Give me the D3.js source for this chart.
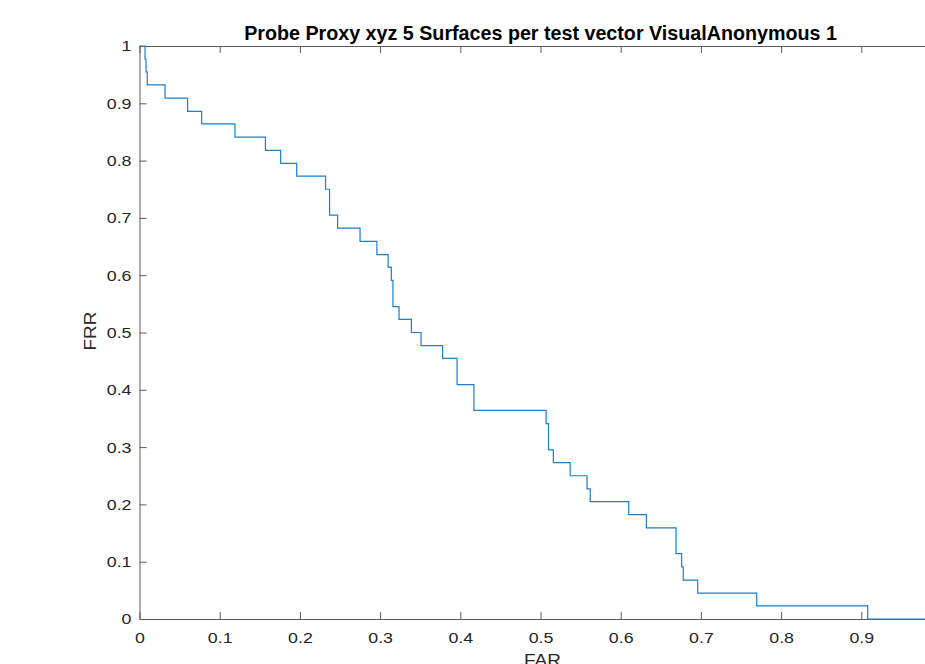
<!DOCTYPE html>
<html>
<head>
<meta charset="utf-8">
<script src="https://cdn.jsdelivr.net/npm/d3@7"></script>
<style>
  body { margin: 0; background: #fff; }
  text { font-family: "Liberation Sans", Arial, sans-serif; }
</style>
</head>
<body>
<div id="chart"></div>
<script>
 //stair points: FAR where each FRR level starts
 var far = [0, 0.0069, 0.0081, 0.0097, 0.0318, 0.060, 0.0775, 0.119, 0.157, 0.176,
     0.196, 0.232, 0.237, 0.247, 0.275, 0.296, 0.310, 0.314, 0.316, 0.3236,
     0.339, 0.351, 0.378, 0.396, 0.417, 0.507, 0.510, 0.516, 0.537, 0.558,
     0.562, 0.610, 0.632, 0.669, 0.676, 0.678, 0.696, 0.7696, 0.908, 1];
 var frr = [1, 0.977, 0.955, 0.932, 0.909, 0.886, 0.864, 0.841, 0.818, 0.795,
     0.773, 0.750, 0.705, 0.682, 0.659, 0.636, 0.614, 0.591, 0.545, 0.523,
     0.500, 0.477, 0.455, 0.409, 0.364, 0.341, 0.295, 0.273, 0.250, 0.227,
     0.205, 0.182, 0.159, 0.114, 0.091, 0.068, 0.045, 0.023, 0, 0];

 //x tick at 1 falls outside the visible picture
 var xTicks = [0, 0.1, 0.2, 0.3, 0.4, 0.5, 0.6, 0.7, 0.8, 0.9];
 var yTicks = [0, 0.1, 0.2, 0.3, 0.4, 0.5, 0.6, 0.7, 0.8, 0.9, 1];
 var title = "Probe Proxy xyz 5 Surfaces per test vector VisualAnonymous 1";

 var margin = { left: 139.5, top: 46, right: 0, bottom: 45 };
 var width = 802,
     height = 573;
 var stretch = 1.15; //text in the picture is a bit wider than the font

 var svg = d3.select("#chart")
     .append("svg")
     .attr("width", 925)
     .attr("height", 664);

 var g = svg.append("g")
     .attr("transform", "translate(" + margin.left + "," + margin.top + ")");

 var xScale = d3.scaleLinear().domain([0, 1]).range([0, width]);
 var yScale = d3.scaleLinear().domain([0, 1]).range([height, 0]);

 var fmt = function (d) { return d === 0 ? "0" : d === 1 ? "1" : d3.format(".1f")(d); };

 //axes, ticks pointing inward like matlab
 var xAxis = d3.axisBottom(xScale).tickValues(xTicks).tickSizeInner(-7).tickSizeOuter(0).tickPadding(13).tickFormat(fmt);
 var yAxis = d3.axisLeft(yScale).tickValues(yTicks).tickSizeInner(-7).tickSizeOuter(0).tickPadding(8).tickFormat(fmt);
 var topAxis = d3.axisTop(xScale).tickValues(xTicks).tickSizeInner(-7).tickSizeOuter(0).tickFormat("");

 g.append("g").attr("class", "axis")
     .attr("transform", "translate(0," + height + ")")
     .call(xAxis);
 g.append("g").attr("class", "axis yaxis").call(yAxis);
 g.append("g").attr("class", "axis").call(topAxis);

 g.selectAll(".axis path, .axis line").attr("stroke", "#5a5a5a").attr("stroke-width", 1);
 g.selectAll(".axis text")
     .attr("fill", "#262626")
     .attr("font-size", "15.5px")
     .attr("transform", "scale(" + stretch + ",1)")
     .style("font-family", "'Liberation Sans', Arial, sans-serif");
 g.selectAll(".yaxis text").attr("x", -8 / stretch);

 //stair line
 var pts = far.map(function (d, i) { return [d, frr[i]]; });
 var line = d3.line()
     .x(function (d) { return xScale(d[0]); })
     .y(function (d) { return yScale(d[1]); })
     .curve(d3.curveStepAfter);

 g.append("path")
     .datum(pts)
     .attr("fill", "none")
     .attr("stroke", "#1a7fcf")
     .attr("stroke-width", 1.2)
     .attr("d", line);

 //title and labels
 svg.append("text")
     .attr("x", margin.left + width / 2)
     .attr("y", 40)
     .attr("text-anchor", "middle")
     .attr("font-size", "19.7px")
     .attr("font-weight", "bold")
     .attr("fill", "#000")
     .text(title);

 svg.append("text")
     .attr("transform", "translate(" + (margin.left + width / 2 + 2) + ",666) scale(" + stretch + ",1)")
     .attr("text-anchor", "middle")
     .attr("font-size", "16.5px")
     .attr("fill", "#262626")
     .text("FAR");

 svg.append("text")
     .attr("transform", "translate(96,331) rotate(-90) scale(" + stretch + ",1)")
     .attr("text-anchor", "middle")
     .attr("font-size", "16.5px")
     .attr("fill", "#262626")
     .text("FRR");
</script>
</body>
</html>
